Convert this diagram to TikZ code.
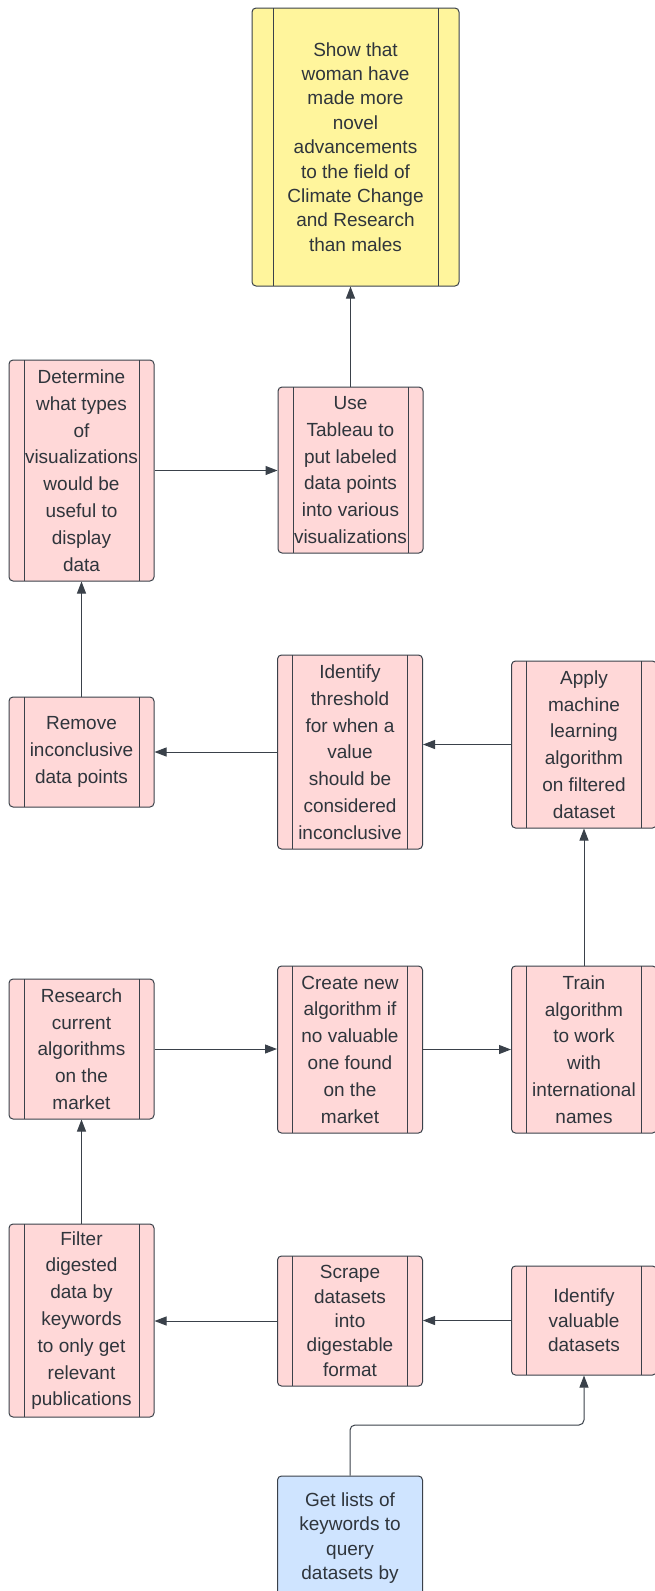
\documentclass[tikz,border=0pt]{standalone}
\usepackage{fontspec}
\setmainfont{Liberation Sans}
\usetikzlibrary{arrows.meta}
\definecolor{txt}{HTML}{2F353C}
\definecolor{edge}{HTML}{3A414A}
\definecolor{pinkfill}{HTML}{FFD8D8}
\definecolor{yellowfill}{HTML}{FFF59C}
\definecolor{bluefill}{HTML}{CFE4FF}
\tikzset{
  box/.style={draw=edge, line width=1pt, rounded corners=4pt, inner sep=0pt,
    align=center, text=txt, font=\fontsize{19}{26.8}\selectfont},
  striped/.style={path picture={
      \draw[edge, line width=1pt]
        ([xshift=#1]path picture bounding box.north west) -- ([xshift=#1]path picture bounding box.south west)
        ([xshift=-#1]path picture bounding box.north east) -- ([xshift=-#1]path picture bounding box.south east);}},
  pinkbox/.style={box, fill=pinkfill, striped=15pt, minimum width=145pt},
  tight/.style={font=\fontsize{19}{24.4}\selectfont},
  conn/.style={draw=edge, line width=1pt, -{Triangle[length=12pt,width=9pt]}},
}
\begin{document}
\begin{tikzpicture}[x=1pt,y=-1pt]
\useasboundingbox (0,0) rectangle (654,1591);
\node[box, tight, fill=yellowfill, striped=21pt, minimum width=207pt, minimum height=278pt] (goal) at (355.5,147)
  {Show that\\woman have\\made more\\novel\\advancements\\to the field of\\Climate Change\\and Research\\than males};
\node[pinkbox, minimum height=221pt] (determine) at (81.5,470.5)
  {Determine\\what types\\of\\visualizations\\would be\\useful to\\display\\data};
\node[pinkbox, minimum height=166pt] (use) at (350.5,470)
  {Use\\Tableau to\\put labeled\\data points\\into various\\visualizations};
\node[pinkbox, minimum height=110pt] (remove) at (81.5,752)
  {Remove\\inconclusive\\data points};
\node[pinkbox, minimum height=194pt] (thresh) at (350,752)
  {Identify\\threshold\\for when a\\value\\should be\\considered\\inconclusive};
\node[pinkbox, minimum height=167pt] (apply) at (584,744.5)
  {Apply\\machine\\learning\\algorithm\\on filtered\\dataset};
\node[pinkbox, minimum height=140pt] (research) at (81.5,1049)
  {Research\\current\\algorithms\\on the\\market};
\node[pinkbox, minimum height=167pt] (create) at (350,1049.5)
  {Create new\\algorithm if\\no valuable\\one found\\on the\\market};
\node[pinkbox, minimum height=167pt] (train) at (584,1049.5)
  {Train\\algorithm\\to work\\with\\international\\names};
\node[pinkbox, minimum height=193pt] (filter) at (81.5,1320.5)
  {Filter\\digested\\data by\\keywords\\to only get\\relevant\\publications};
\node[pinkbox, tight, minimum height=130pt] (scrape) at (350,1321)
  {Scrape\\datasets\\into\\digestable\\format};
\node[pinkbox, tight, minimum height=109pt] (valuable) at (584,1320.5)
  {Identify\\valuable\\datasets};
\node[box, tight, fill=bluefill, minimum width=145pt, minimum height=124pt] (keywords) at (350,1538)
  {Get lists of\\keywords to\\query\\datasets by};
\coordinate (bend) at (350,1425);
% connectors
\draw[conn] (use.north) -- (use.north |- goal.south);
\draw[conn] (determine.east) -- (determine.east -| use.west);
\draw[conn] (remove.north) -- (determine.south);
\draw[conn] (thresh.west) -- (thresh.west -| remove.east);
\draw[conn] (apply.west) -- (apply.west -| thresh.east);
\draw[conn] (train.north) -- (apply.south);
\draw[conn] (research.east) -- (research.east -| create.west);
\draw[conn] (create.east) -- (create.east -| train.west);
\draw[conn] (filter.north) -- (research.south);
\draw[conn] (scrape.west) -- (scrape.west -| filter.east);
\draw[conn] (valuable.west) -- (valuable.west -| scrape.east);
\draw[conn, rounded corners=5pt] (keywords.north) -- (bend) -| (valuable.south);
\end{tikzpicture}
\end{document}
